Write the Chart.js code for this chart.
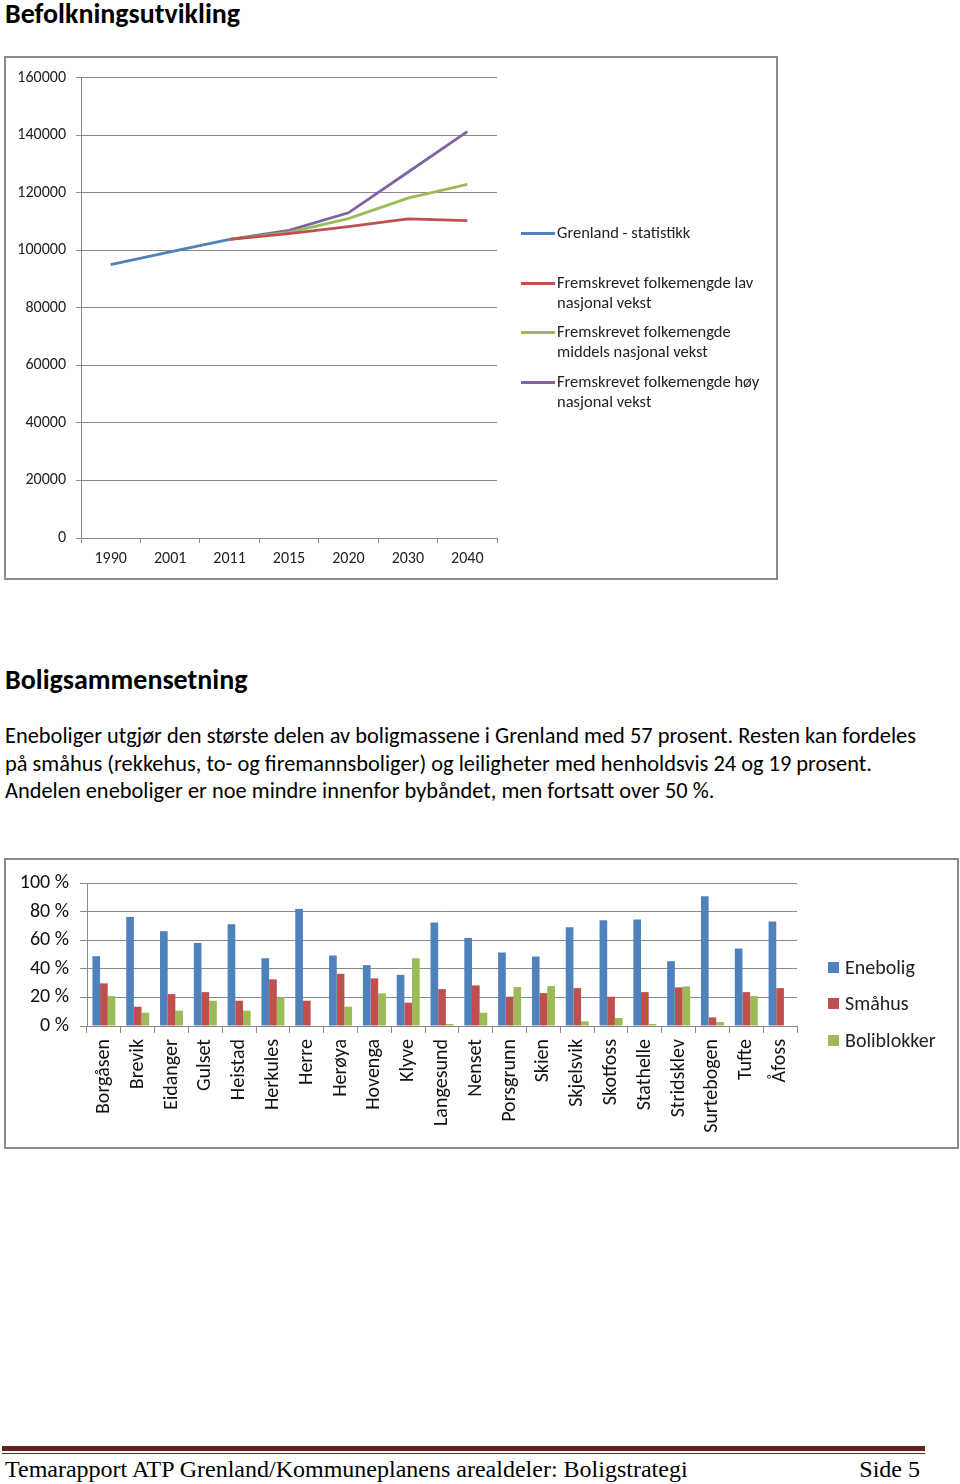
<!DOCTYPE html>
<html>
<head>
<meta charset="utf-8">
<script src="https://cdn.jsdelivr.net/npm/chart.js@4"></script>
<style>
  body { margin: 0; background: #fff; font-family: Carlito, Lato, sans-serif; color: #000; }
  .page { position: relative; width: 960px; height: 1484px; overflow: hidden; }
  .abs { position: absolute; white-space: nowrap; }
  h1 { position: absolute; margin: 0; font-size: 28px; font-weight: bold; line-height: 1; }
  .box { position: absolute; border: 2px solid #8a8a8a; box-sizing: border-box; background: #fff; }
  .lg { position: absolute; font-size: 16.5px; line-height: 19.5px; color: #222; white-space: nowrap; }
  .lg .ln { position: absolute; left: 0; width: 34px; height: 3px; }
  .bl { position: absolute; font-size: 20px; color: #222; line-height: 1; white-space: nowrap; }
  .bl .sq { position: absolute; left: 0; top: 5px; width: 11px; height: 11px; }
  .para { font-size: 22.4px; line-height: 27.5px; }
  .foot { font-family: "Liberation Serif", serif; font-size: 24px; }
</style>
</head>
<body>
<div class="page">
  <h1 style="left:5px; top:0px;">Befolkningsutvikling</h1>

  <div class="box" style="left:4px; top:56px; width:774px; height:524px;"></div>
  <div class="abs" style="left:6px; top:58px; width:770px; height:520px;"><canvas id="lineChart"></canvas></div>
  <div class="lg" style="left:521px; top:223px;"><span class="ln" style="top:9px; background:#4F81BD;"></span><span style="margin-left:36px;">Grenland - statistikk</span></div>
  <div class="lg" style="left:521px; top:273px;"><span class="ln" style="top:9px; background:#C0504D;"></span><div style="margin-left:36px;">Fremskrevet folkemengde lav<br>nasjonal vekst</div></div>
  <div class="lg" style="left:521px; top:322px;"><span class="ln" style="top:9px; background:#9BBB59;"></span><div style="margin-left:36px;">Fremskrevet folkemengde<br>middels nasjonal vekst</div></div>
  <div class="lg" style="left:521px; top:372px;"><span class="ln" style="top:9px; background:#8064A2;"></span><div style="margin-left:36px;">Fremskrevet folkemengde høy<br>nasjonal vekst</div></div>

  <h1 style="left:5px; top:666px;">Boligsammensetning</h1>
  <div class="abs para" style="left:5px; top:722px;">Eneboliger utgjør den største delen av boligmassene i Grenland med 57 prosent. Resten kan fordeles</div>
  <div class="abs para" style="left:5px; top:749.5px;">på småhus (rekkehus, to- og firemannsboliger) og leiligheter med henholdsvis 24 og 19 prosent.</div>
  <div class="abs para" style="left:5px; top:777px;">Andelen eneboliger er noe mindre innenfor bybåndet, men fortsatt over 50 %.</div>

  <div class="box" style="left:4px; top:858px; width:955px; height:291px;"></div>
  <div class="abs" style="left:6px; top:860px; width:951px; height:287px;"><canvas id="barChart"></canvas></div>
  <div class="bl" style="left:828px; top:957px;"><span class="sq" style="background:#4F81BD;"></span><span style="margin-left:17px;">Enebolig</span></div>
  <div class="bl" style="left:828px; top:993px;"><span class="sq" style="background:#C0504D;"></span><span style="margin-left:17px;">Småhus</span></div>
  <div class="bl" style="left:828px; top:1030px;"><span class="sq" style="background:#9BBB59;"></span><span style="margin-left:17px;">Boliblokker</span></div>

  <div class="abs" style="left:2px; top:1446px; width:923px; height:5px; background:#622423;"></div>
  <div class="abs" style="left:2px; top:1453px; width:923px; height:1px; background:#622423;"></div>
  <div class="abs foot" style="left:5px; top:1456px;">Temarapport ATP Grenland/Kommuneplanens arealdeler: Boligstrategi</div>
  <div class="abs foot" style="right:40px; top:1456px;">Side 5</div>
</div>

<script>
// Befolkningsutvikling
const years = ['1990', '2001', '2011', '2015', '2020', '2030', '2040'];
const statistikk = [95000, 99400, 103800, null, null, null, null];
const lavVekst = [null, null, 103800, 105800, 108200, 110900, 110300];
const middelsVekst = [null, null, 103800, 106200, 111000, 118100, 122900];
const hoyVekst = [null, null, 103800, 106900, 113000, 127100, 141200];
const popTicks = [0, 20000, 40000, 60000, 80000, 100000, 120000, 140000, 160000];

// Boligsammensetning (%)
const steder = ['Borgåsen', 'Brevik', 'Eidanger', 'Gulset', 'Heistad', 'Herkules', 'Herre', 'Herøya',
  'Hovenga', 'Klyve', 'Langesund', 'Nenset', 'Porsgrunn', 'Skien', 'Skjelsvik', 'Skotfoss',
  'Stathelle', 'Stridsklev', 'Surtebogen', 'Tufte', 'Åfoss'];
const enebolig = [48.8, 76.3, 66.3, 58.1, 71.2, 47.4, 81.9, 49.3, 42.6, 35.8, 72.3,
  61.6, 51.4, 48.6, 69.1, 74.0, 74.4, 45.3, 90.7, 54.2, 73.0];
const smahus = [29.8, 13.5, 22.3, 23.7, 17.7, 32.6, 17.7, 36.5, 33.3, 16.3, 25.8,
  28.4, 20.5, 23.0, 26.5, 20.5, 23.7, 27.0, 6.0, 23.7, 26.5];
const boliblokker = [20.9, 9.3, 10.7, 17.7, 10.7, 20.0, 0, 13.5, 22.8, 47.4, 1.4,
  9.3, 27.2, 27.9, 3.3, 5.6, 1.4, 27.7, 2.8, 20.9, 0];
const pctTicks = [0, 20, 40, 60, 80, 100];

Chart.defaults.font.family = 'Carlito, Lato, sans-serif';
Chart.defaults.color = '#222';
Chart.defaults.animation = false;

const axisGrey = '#8a8a8a';

function lineSet(label, data, color) {
    return { label: label, data: data, borderColor: color, backgroundColor: color,
        borderWidth: 2.8, pointRadius: 0, tension: 0, spanGaps: false };
}

new Chart(document.getElementById('lineChart'), {
    type: 'line',
    data: {
        labels: years,
        datasets: [
            lineSet('Grenland - statistikk', statistikk, '#4F81BD'),
            lineSet('Fremskrevet folkemengde lav nasjonal vekst', lavVekst, '#C0504D'),
            lineSet('Fremskrevet folkemengde middels nasjonal vekst', middelsVekst, '#9BBB59'),
            lineSet('Fremskrevet folkemengde høy nasjonal vekst', hoyVekst, '#8064A2'),
        ]
    },
    options: {
        responsive: true,
        maintainAspectRatio: false,
        layout: { padding: { top: 17, right: 279, bottom: 0, left: 0 } },
        plugins: { legend: { display: false }, tooltip: { enabled: false } },
        scales: {
            x: {
                offset: true,
                grid: { display: true, offset: true, drawOnChartArea: false, tickLength: 5, color: axisGrey },
                border: { color: axisGrey },
                ticks: { font: { size: 16 }, padding: 6, maxRotation: 0 },
                afterFit(scale) { scale.height = 40; }
            },
            y: {
                min: 0, max: 160000,
                afterBuildTicks(scale) { scale.ticks = popTicks.map(v => ({ value: v })); },
                grid: { color: axisGrey, tickLength: 5 },
                border: { color: axisGrey },
                ticks: { font: { size: 16 }, padding: 10, callback: v => String(v) },
                afterFit(scale) { scale.width = 75; }
            }
        }
    }
});

function barSet(label, data, color) {
    return { label: label, data: data, backgroundColor: color, borderWidth: 0,
        barPercentage: 1, categoryPercentage: 0.68 };
}

new Chart(document.getElementById('barChart'), {
    type: 'bar',
    data: {
        labels: steder,
        datasets: [
            barSet('Enebolig', enebolig, '#4F81BD'),
            barSet('Småhus', smahus, '#C0504D'),
            barSet('Boliblokker', boliblokker, '#9BBB59'),
        ]
    },
    options: {
        responsive: true,
        maintainAspectRatio: false,
        layout: { padding: { top: 22, right: 160, bottom: 0, left: 0 } },
        plugins: { legend: { display: false }, tooltip: { enabled: false } },
        scales: {
            x: {
                grid: { display: true, offset: true, drawOnChartArea: false, tickLength: 7, color: axisGrey },
                border: { color: axisGrey },
                ticks: { font: { size: 20 }, padding: 6, minRotation: 90, maxRotation: 90, autoSkip: false, color: '#111' },
                afterFit(scale) { scale.height = 121; }
            },
            y: {
                min: 0, max: 100,
                afterBuildTicks(scale) { scale.ticks = pctTicks.map(v => ({ value: v })); },
                grid: { color: axisGrey, tickLength: 7 },
                border: { color: axisGrey },
                ticks: { font: { size: 20 }, padding: 11, color: '#111', callback: v => v + ' %' },
                afterFit(scale) { scale.width = 81; }
            }
        }
    }
});
</script>
</body>
</html>
